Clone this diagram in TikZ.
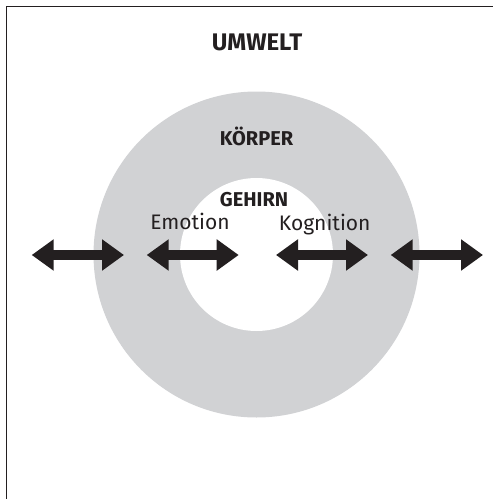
\documentclass[tikz,border=0pt]{standalone}
\usepackage{fontspec}
\setmainfont{Fira Sans}
\usetikzlibrary{arrows.meta}
\definecolor{ringgrey}{HTML}{D1D2D4}
\definecolor{inkblack}{HTML}{231F20}
\tikzset{
    bigtitle/.style={anchor=base, text=inkblack, font=\fontsize{24}{26}\selectfont\bfseries},
    midtitle/.style={anchor=base, text=inkblack, font=\fontsize{20}{22}\selectfont\bfseries},
    label/.style={anchor=base, text=inkblack, font=\fontsize{21}{23}\selectfont},
    dblarrow/.style={draw=inkblack, line width=10pt,
        {Triangle[length=22pt,width=30pt]}-{Triangle[length=22pt,width=30pt]}},
}

\begin{document}
\begin{tikzpicture}[x=1pt, y=-1pt]
    \clip (0,0) rectangle (493,499);
    % frame (right and bottom edges lie outside the page)
    \draw[line width=1.4pt, inkblack] (6.5,6.5) rectangle (520,520);

    % body and brain
    \node[circle, fill=ringgrey, minimum size=326pt, inner sep=0pt] (koerper) at (256.5,254.5) {};
    \node[circle, fill=white, minimum size=153pt, inner sep=0pt] (gehirn) at (256.5,254.5) {};

    % texts
    \node[bigtitle] (umwelt) at (257,50) {UMWELT};
    \node[midtitle] (koerpertext) at (256.5,145.7) {KÖRPER};
    \node[midtitle] (gehirntext) at (254,206) {GEHIRN};
    \node[label] (emotion) at (190,229.3) {Emotion};
    \node[label] (kognition) at (324.7,230) {Kognition};

    % arrow ends
    \coordinate (aul) at (31.7,255);
    \coordinate (aur) at (124,255);
    \coordinate (ael) at (146.7,255);
    \coordinate (aer) at (238.7,255);
    \coordinate (akl) at (276,255);
    \coordinate (akr) at (368,255);
    \coordinate (aol) at (390.7,255);
    \coordinate (aor) at (483,255);

    \draw[dblarrow] (aul) -- (aur);
    \draw[dblarrow] (ael) -- (aer);
    \draw[dblarrow] (akl) -- (akr);
    \draw[dblarrow] (aol) -- (aor);
\end{tikzpicture}
\end{document}
